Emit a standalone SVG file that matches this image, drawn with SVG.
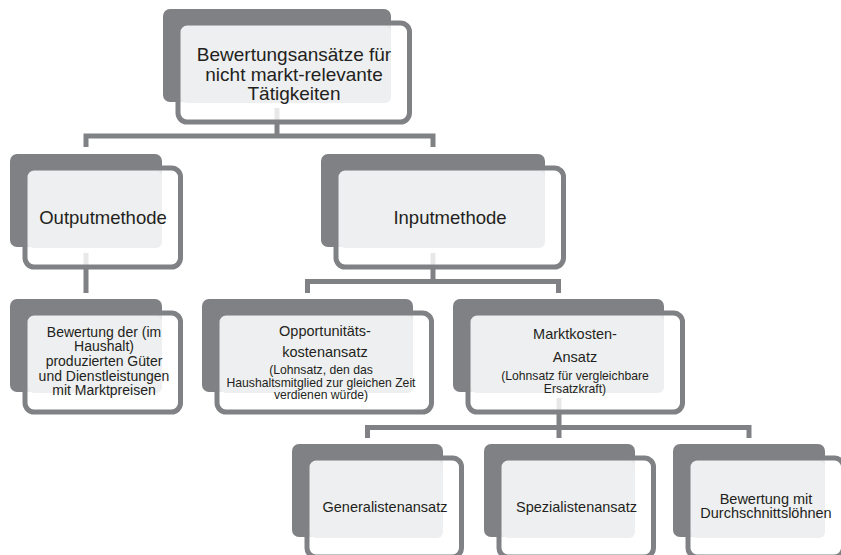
<svg xmlns="http://www.w3.org/2000/svg" width="841" height="555" viewBox="0 0 841 555">
<style>
.d{fill:#808184}
.o{fill:#ffffff;fill-opacity:0.82;stroke:#808184;stroke-width:5}
.l{fill:#eeeff0}
.c{fill:none;stroke:#808184;stroke-width:5;stroke-linejoin:miter}
text{font-family:"Liberation Sans",Arial,sans-serif;fill:#231f20;text-anchor:middle}
.t1{font-size:19px}
.t2{font-size:18.5px}
.t3{font-size:14px}
.t4{font-size:14.5px}
.t5{font-size:12.2px}
</style>
<rect width="841" height="555" fill="#ffffff"/>
<g id="connectors">
<path class="c" d="M277,108 V136"/>
<path class="c" d="M86,147 V136 H433 V147"/>
<path class="c" d="M86,253 V293"/>
<path class="c" d="M433,253 V281.5"/>
<path class="c" d="M307.5,293 V281.5 H558.5 V293"/>
<path class="c" d="M559,398 V438"/>
<path class="c" d="M367.5,438 V427.5 H749 V438"/>
</g>
<g id="n-top">
<rect class="d" x="163" y="9" width="228" height="93" rx="7"/>
<rect class="o" x="178" y="23" width="231.5" height="99" rx="9"/>
<rect class="l" x="181" y="26" width="210" height="77" rx="6"/>
<text class="t1" x="294" y="61">Bewertungsansätze für</text>
<text class="t1" x="294" y="80.5">nicht markt-relevante</text>
<text class="t1" x="294" y="100">Tätigkeiten</text>
</g>
<g id="n-output">
<rect class="d" x="10" y="154" width="152" height="93" rx="7"/>
<rect class="o" x="25" y="168" width="155.5" height="99" rx="9"/>
<rect class="l" x="28" y="171" width="134" height="77" rx="6"/>
<text class="t2" x="103" y="223.5">Outputmethode</text>
</g>
<g id="n-input">
<rect class="d" x="321" y="154" width="224" height="93" rx="7"/>
<rect class="o" x="336" y="168" width="227.5" height="99" rx="9"/>
<rect class="l" x="339" y="171" width="206" height="77" rx="6"/>
<text class="t2" x="450" y="223.5">Inputmethode</text>
</g>
<g id="n-bewertung">
<rect class="d" x="10" y="299" width="152" height="93" rx="7"/>
<rect class="o" x="25" y="313" width="155.5" height="99" rx="9"/>
<rect class="l" x="28" y="316" width="134" height="77" rx="6"/>
<text class="t3" x="104" y="336.5">Bewertung der (im</text>
<text class="t3" x="104" y="351.2">Haushalt)</text>
<text class="t3" x="104" y="365.9">produzierten Güter</text>
<text class="t3" x="104" y="380.6">und Dienstleistungen</text>
<text class="t3" x="104" y="395.3">mit Marktpreisen</text>
</g>
<g id="n-opportunitaet">
<rect class="d" x="202" y="299" width="211" height="93" rx="7"/>
<rect class="o" x="217" y="313" width="214.5" height="99" rx="9"/>
<rect class="l" x="220" y="316" width="193" height="77" rx="6"/>
<text class="t4" x="325" y="336">Opportunitäts-</text>
<text class="t4" x="325" y="356.7">kostenansatz</text>
<text class="t5" x="321" y="374">(Lohnsatz, den das</text>
<text class="t5" x="321" y="386.5">Haushaltsmitglied zur gleichen Zeit</text>
<text class="t5" x="321" y="398.5">verdienen würde)</text>
</g>
<g id="n-marktkosten">
<rect class="d" x="453" y="299" width="211" height="93" rx="7"/>
<rect class="o" x="468" y="313" width="214.5" height="99" rx="9"/>
<rect class="l" x="471" y="316" width="193" height="77" rx="6"/>
<text class="t4" x="575" y="339">Marktkosten-</text>
<text class="t4" x="575" y="361.7">Ansatz</text>
<text class="t5" x="575" y="380">(Lohnsatz für vergleichbare</text>
<text class="t5" x="575" y="393">Ersatzkraft)</text>
</g>
<g id="n-generalisten">
<rect class="d" x="292" y="444" width="151" height="93" rx="7"/>
<rect class="o" x="307" y="458" width="154.5" height="99" rx="9"/>
<rect class="l" x="310" y="461" width="133" height="77" rx="6"/>
<text class="t4" x="385" y="512">Generalistenansatz</text>
</g>
<g id="n-spezialisten">
<rect class="d" x="484" y="444" width="151" height="93" rx="7"/>
<rect class="o" x="499" y="458" width="154.5" height="99" rx="9"/>
<rect class="l" x="502" y="461" width="133" height="77" rx="6"/>
<text class="t4" x="576.5" y="512">Spezialistenansatz</text>
</g>
<g id="n-durchschnitt">
<rect class="d" x="673" y="444" width="152" height="93" rx="7"/>
<rect class="o" x="688" y="458" width="155.5" height="99" rx="9"/>
<rect class="l" x="691" y="461" width="134" height="77" rx="6"/>
<text class="t4" x="766" y="503.5">Bewertung mit</text>
<text class="t4" x="766" y="517.5">Durchschnittslöhnen</text>
</g>
</svg>
